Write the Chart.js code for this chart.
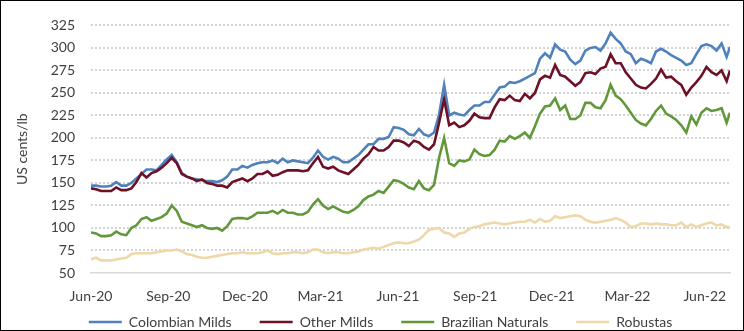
<!DOCTYPE html>
<html>
<head>
<meta charset="utf-8">
<script src="https://cdn.jsdelivr.net/npm/chart.js@4.4.1/dist/chart.umd.min.js"></script>
<style>
  body { margin: 0; background: #fff; }
  #frame { width: 742px; height: 329px; border: 1px solid #000; }
</style>
</head>
<body>
<div id="frame"><canvas id="prices" width="742" height="329"></canvas></div>
<script>
// days since 1 Jun 2020
const days = [
  0, 6, 12, 18, 24, 30, 36, 42, 48, 54,
  60, 66, 72, 78, 84, 90, 96, 102, 108, 114,
  120, 126, 132, 138, 144, 150, 156, 162, 168, 174,
  180, 186, 192, 198, 204, 210, 216, 222, 228, 234,
  240, 246, 252, 258, 264, 270, 276, 282, 288, 294,
  300, 306, 312, 318, 324, 330, 336, 342, 348, 354,
  360, 366, 372, 378, 384, 390, 396, 402, 408, 414,
  420, 426, 432, 438, 444, 450, 456, 462, 468, 474,
  480, 486, 492, 498, 504, 510, 516, 522, 528, 534,
  540, 546, 552, 558, 564, 570, 576, 582, 588, 594,
  600, 606, 612, 618, 624, 630, 636, 642, 648, 654,
  660, 666, 672, 678, 684, 690, 696, 702, 708, 714,
  720, 726, 732, 738, 744, 750, 756, 760
];

const colombianMilds = [
  147, 147, 146, 146, 147, 151, 147, 147, 150, 155,
  160, 165, 165, 164, 170, 176, 181, 173, 161, 157,
  155, 154, 153, 152, 152, 151, 153, 157, 165, 165,
  169, 167, 170, 172, 173, 173, 175, 172, 177, 173,
  175, 174, 173, 172, 178, 186, 179, 176, 179, 177,
  173, 173, 177, 181, 187, 193, 193, 199, 199, 201,
  212, 211, 209, 204, 203, 210, 204, 202, 206, 226,
  259, 225, 228, 226, 225, 231, 236, 236, 240, 240,
  248, 256, 257, 262, 261, 263, 266, 269, 272, 288,
  294, 289, 304, 298, 296, 287, 282, 286, 297, 300,
  301, 297, 305, 317, 310, 305, 296, 293, 283, 288,
  286, 283, 296, 299, 296, 292, 289, 286, 281, 283,
  293, 302, 304, 302, 297, 305, 290, 301
];

const otherMilds = [
  144, 143, 141, 141, 141, 145, 142, 142, 144, 151,
  161, 156, 161, 163, 167, 172, 178, 172, 160, 157,
  155, 152, 154, 150, 149, 147, 147, 145, 151, 153,
  155, 152, 155, 160, 160, 163, 158, 159, 162, 164,
  164, 164, 163, 164, 172, 179, 168, 166, 168, 164,
  162, 160, 165, 170, 177, 182, 190, 186, 186, 190,
  197, 197, 195, 191, 197, 195, 190, 187, 193, 217,
  243, 214, 217, 212, 214, 219, 227, 223, 222, 222,
  234, 243, 242, 247, 242, 241, 249, 244, 250, 265,
  269, 267, 281, 270, 268, 263, 258, 262, 272, 273,
  271, 277, 279, 293, 283, 283, 273, 266, 259, 256,
  255, 260, 266, 276, 267, 268, 263, 259, 248, 256,
  262, 269, 279, 273, 270, 275, 263, 275
];

const brazilianNaturals = [
  95, 94, 91, 91, 92, 96, 93, 92, 100, 103,
  110, 112, 108, 110, 112, 116, 125, 119, 107, 105,
  103, 101, 103, 100, 99, 100, 97, 102, 110, 111,
  111, 110, 113, 117, 117, 117, 119, 116, 120, 117,
  117, 115, 115, 118, 126, 132, 125, 121, 124, 121,
  118, 117, 120, 124, 131, 135, 137, 141, 139, 146,
  153, 152, 149, 145, 143, 152, 144, 142, 148, 178,
  200, 172, 169, 175, 174, 176, 187, 182, 180, 181,
  187, 197, 196, 202, 199, 202, 206, 200, 213, 227,
  235, 236, 244, 231, 236, 221, 221, 225, 239, 239,
  234, 233, 242, 259, 247, 243, 236, 228, 220, 216,
  214, 221, 230, 236, 227, 224, 220, 214, 206, 224,
  215, 228, 233, 230, 231, 233, 217, 228
];

const robustas = [
  65, 67, 64, 64, 64, 65, 66, 67, 71, 72,
  72, 72, 72, 73, 74, 75, 75, 76, 74, 71,
  70, 68, 67, 67, 68, 69, 70, 71, 72, 72,
  73, 72, 72, 72, 73, 75, 72, 71, 72, 72,
  73, 73, 72, 73, 76, 76, 73, 72, 73, 73,
  72, 72, 73, 74, 76, 77, 78, 77, 79, 81,
  83, 84, 83, 83, 85, 87, 92, 98, 99, 100,
  95, 94, 90, 94, 95, 99, 101, 102, 104, 105,
  106, 105, 104, 105, 106, 107, 107, 109, 106, 110,
  107, 108, 113, 111, 112, 113, 114, 113, 109, 107,
  106, 107, 108, 109, 111, 109, 106, 101, 102, 105,
  105, 104, 105, 104, 104, 103, 103, 106, 101, 104,
  101, 103, 105, 106, 103, 104, 101, 101
];

// quarter starts on the x axis
const tickDays = [0, 92, 183, 273, 365, 457, 548, 638, 730];
const tickLabels = ['Jun-20', 'Sep-20', 'Dec-20', 'Mar-21', 'Jun-21', 'Sep-21', 'Dec-21', 'Mar-22', 'Jun-22'];

const textColor = '#404040';
const font = { family: 'Lato', size: 14 };

function series(label, values, color, order) {
  return {
    label: label,
    data: values,
    borderColor: color,
    backgroundColor: color,
    borderWidth: 2.6,
    pointRadius: 0,
    tension: 0,
    order: order
  };
}

// the x axis box is kept short so the legend sits close under it;
// stretch it afterwards so its labels are not clipped
const labelRoom = {
  id: 'labelRoom',
  afterLayout(chart) {
    const x = chart.scales.x;
    x.bottom = x.top + 34;
  }
};

new Chart(document.getElementById('prices'), {
  type: 'line',
  data: {
    labels: days,
    datasets: [
      series('Colombian Milds', colombianMilds, '#4f81bd', 4),
      series('Other Milds', otherMilds, '#6e1026', 3),
      series('Brazilian Naturals', brazilianNaturals, '#61993a', 2),
      series('Robustas', robustas, '#eed7a8', 1)
    ]
  },
  plugins: [labelRoom],
  options: {
    responsive: false,
    animation: false,
    layout: { padding: { left: 30, right: 13, top: 16, bottom: -9 } },
    plugins: {
      tooltip: { enabled: false },
      legend: {
        position: 'bottom',
        labels: {
          color: textColor,
          font: font,
          usePointStyle: true,
          pointStyle: 'line',
          pointStyleWidth: 33,
          padding: 28,
          sort: (a, b) => a.datasetIndex - b.datasetIndex
        }
      }
    },
    scales: {
      x: {
        type: 'linear',
        min: 0,
        max: 760,
        afterFit: (scale) => { scale.height = 14; },
        afterBuildTicks: (scale) => { scale.ticks = tickDays.map(v => ({ value: v })); },
        ticks: {
          color: textColor,
          font: font,
          padding: 7,
          autoSkip: false,
          maxRotation: 0,
          callback: (value) => tickLabels[tickDays.indexOf(value)]
        },
        grid: { display: false },
        border: { display: true, color: '#d9d9d9', width: 1.5 }
      },
      y: {
        min: 50,
        max: 325,
        afterFit: (scale) => { scale.width = 60; },
        ticks: { stepSize: 25, color: textColor, font: font, padding: 16 },
        grid: {
          drawTicks: false,
          lineWidth: 2,
          color: (ctx) => ctx.tick && ctx.tick.value === 50 ? 'rgba(0,0,0,0)' : '#d4d4d4'
        },
        border: { display: false, dash: [2, 2] },
        title: {
          display: true,
          text: 'US cents/lb',
          color: textColor,
          font: font,
          padding: { top: -17, bottom: 0 }
        }
      }
    }
  }
});
</script>
</body>
</html>
